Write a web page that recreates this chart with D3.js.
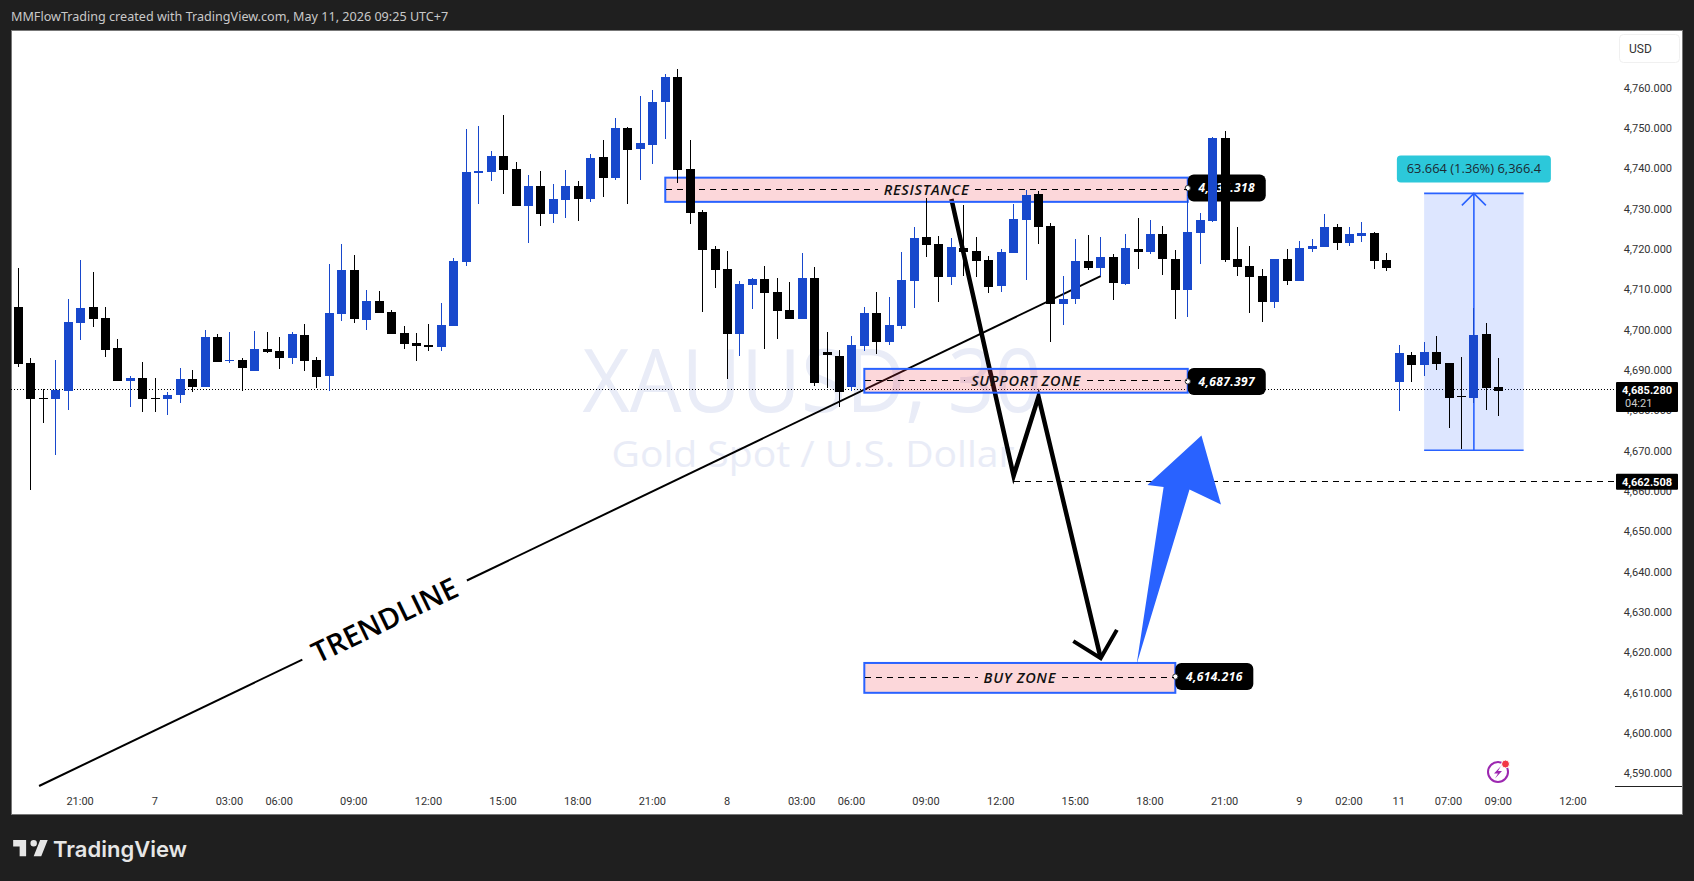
<!DOCTYPE html>
<html>
<head>
<meta charset="utf-8">
<script src="https://cdn.jsdelivr.net/npm/d3@7"></script>
<style>
  html, body { margin: 0; padding: 0; background: #1f1f1f; }
  svg { display: block; }
  text { font-family: "Open Sans", sans-serif; }
</style>
</head>
<body>
<div id="chart"></div>
<script>
const opens = [4705.8,4692.0,4683.3,4683.0,4685.1,4701.9,4705.8,4703.1,4695.7,4687.5,4688.2,4683.3,4683.0,4684.0,4688.0,4686.0,4698.4,4692.4,4692.7,4690.0,
  4695.4,4694.9,4693.2,4698.9,4692.7,4688.7,4704.1,4715.0,4702.6,4707.3,4704.6,4699.4,4696.9,4696.4,4695.9,4701.1,4717.0,4739.0,4739.3,4743.3,
  4740.0,4730.9,4735.8,4728.9,4732.4,4735.8,4732.6,4743.0,4737.8,4750.2,4745.0,4746.0,4756.7,4762.9,4740.0,4729.4,4720.2,4715.3,4699.1,4711.3,
  4712.8,4709.6,4705.1,4702.9,4713.0,4694.7,4693.8,4685.9,4696.2,4704.4,4697.2,4701.1,4712.3,4723.2,4721.5,4713.3,4720.5,4719.7,4717.5,4711.0,
  4719.2,4727.4,4733.9,4725.9,4706.6,4707.8,4717.2,4715.5,4718.2,4711.5,4720.2,4719.5,4723.9,4717.7,4710.1,4724.2,4727.2,4747.7,4717.7,4716.0,
  4713.5,4707.1,4717.7,4712.3,4720.2,4720.7,4725.7,4721.7,4723.4,4724.2,4717.5,4687.2,4693.9,4691.5,4694.7,4692.0,4683.8,4683.3,4699.1,4686.0];
const highs = [4715.5,4693.2,4685.5,4692.7,4707.8,4717.5,4714.5,4705.8,4697.9,4688.7,4692.2,4688.2,4684.8,4690.7,4690.2,4700.1,4699.1,4699.6,4693.2,4699.9,
  4699.6,4698.4,4699.6,4701.6,4693.4,4716.5,4721.5,4718.7,4710.0,4709.8,4705.1,4701.1,4699.4,4701.6,4706.8,4718.0,4750.0,4750.7,4744.5,4753.4,
  4741.8,4738.6,4739.5,4736.3,4739.8,4737.1,4743.8,4747.2,4752.7,4750.5,4758.1,4759.6,4763.6,4764.8,4747.2,4729.9,4721.0,4719.7,4712.3,4713.0,
  4716.0,4713.0,4712.0,4719.2,4715.8,4699.6,4695.1,4698.6,4705.8,4709.6,4708.3,4719.5,4725.7,4732.8,4723.4,4722.9,4731.1,4723.2,4718.5,4720.2,
  4731.4,4734.8,4734.6,4726.7,4713.5,4722.7,4723.7,4723.2,4719.0,4723.9,4727.9,4727.4,4725.9,4720.0,4732.4,4729.1,4748.0,4749.5,4725.7,4721.0,
  4715.2,4717.7,4720.2,4722.2,4722.7,4728.9,4726.4,4725.7,4726.9,4724.4,4719.2,4696.4,4694.7,4697.2,4698.6,4692.0,4693.4,4705.6,4701.9,4693.2];
const lows = [4691.0,4660.5,4677.1,4669.1,4680.3,4697.7,4700.9,4693.4,4687.5,4681.0,4679.8,4679.8,4679.1,4682.0,4684.8,4686.0,4692.2,4692.0,4685.1,4690.0,
  4694.4,4690.5,4691.7,4690.0,4685.8,4685.1,4702.4,4701.9,4700.1,4704.3,4699.1,4695.4,4692.4,4694.9,4694.9,4701.1,4716.0,4731.4,4737.1,4733.8,
  4730.9,4721.7,4725.9,4726.7,4727.9,4727.2,4731.9,4733.1,4737.3,4731.4,4737.3,4741.3,4747.5,4736.6,4726.4,4704.6,4710.5,4688.0,4693.7,4705.3,
  4695.4,4697.9,4702.9,4702.9,4686.3,4685.8,4681.1,4684.9,4694.9,4694.2,4696.4,4700.4,4705.6,4718.2,4707.1,4711.3,4713.4,4713.3,4709.3,4709.6,
  4719.2,4712.5,4721.5,4697.2,4701.4,4706.6,4715.0,4713.5,4707.6,4711.3,4715.3,4719.0,4713.8,4702.9,4703.4,4716.5,4726.9,4717.0,4713.5,4704.4,
  4702.1,4705.6,4711.3,4712.3,4719.5,4720.7,4720.0,4721.0,4722.0,4715.3,4714.8,4680.1,4687.2,4688.7,4690.2,4675.8,4670.6,4682.0,4680.3,4678.8];
const closes = [4691.7,4683.0,4683.1,4685.2,4702.1,4705.6,4702.9,4695.2,4687.5,4688.2,4683.0,4683.1,4684.0,4688.0,4686.0,4698.4,4692.2,4692.7,4690.7,4695.4,
  4694.7,4693.2,4699.1,4692.4,4688.5,4704.3,4715.0,4702.9,4707.3,4704.3,4699.1,4696.7,4696.2,4695.9,4701.4,4717.2,4739.3,4739.5,4743.3,4739.8,
  4730.9,4735.8,4728.9,4732.6,4735.8,4732.6,4742.8,4737.8,4750.2,4744.8,4746.5,4756.7,4762.9,4739.8,4729.1,4720.0,4715.0,4699.1,4711.5,4712.8,
  4709.3,4704.8,4702.9,4713.0,4687.0,4693.9,4684.8,4696.4,4704.4,4697.2,4701.4,4712.5,4722.9,4721.2,4713.3,4720.7,4719.5,4717.2,4710.8,4719.5,
  4727.7,4733.6,4725.7,4706.6,4707.8,4717.2,4715.5,4718.2,4711.8,4720.5,4719.5,4723.9,4717.7,4710.1,4724.4,4727.4,4747.7,4717.5,4715.8,4713.3,
  4707.1,4717.7,4712.3,4720.5,4721.0,4725.7,4721.7,4723.9,4724.2,4717.2,4715.5,4694.4,4691.5,4694.7,4691.7,4683.3,4683.5,4698.9,4685.8,4685.0];

// price axis
const priceTicks = [4590,4600,4610,4620,4630,4640,4650,4660,4670,4680,4690,4700,4710,4720,4730,4740,4750,4760];
// time axis, positions are bar numbers
const timeTickBars = [5,11,17,21,27,33,39,45,51,57,63,67,73,79,85,91,97,103,107,111,115,119,125];
const timeTickLabels = ['21:00','7','03:00','06:00','09:00','12:00','15:00','18:00','21:00','8','03:00','06:00','09:00','12:00','15:00','18:00','21:00','9','02:00','11','07:00','09:00','12:00'];

// zones
const zoneNames = ['RESISTANCE','SUPPORT ZONE','BUY ZONE'];
const zoneStart = [52,68,68];
const zoneEnd = [94,94,93];
const zoneTop = [4737.9,4690.5,4617.6];
const zoneBottom = [4731.9,4684.6,4610.2];
const zonePrice = [4735.318,4687.397,4614.216];

// hand drawn lines, [bar, price]
const trendline = [[1.66,4587.1],[87,4713.5]];
const zigzag = [[75,4732.6],[80,4664],[82,4683.6],[87,4618.8]];
const zigzagHead = [[84.8,4623],[87,4618.8],[88.3,4625.8]];
const bigArrow = [[89.89,4617.3],[92.06,4661.2],[90.76,4661.7],[95.1,4674],[96.67,4656.9],[94.14,4660.6]];
const levelPrice = 4662.508;
const levelStartBar = 80;
const lastPrice = 4685.28;
const lastCountdown = '04:21';
const rangeBars = [113,121];
const rangePrices = [4734,4670.34];
const rangeLabel = '63.664 (1.36%) 6,366.4';

const width = 1694, height = 881;
const plotLeft = 11, plotTop = 30, plotRight = 1682, plotBottom = 814, axisLeft = 1615;
const blue = '#1848cc', line = '#2962ff';

const x = d3.scaleLinear().domain([0, 125]).range([18.4, 1573.4]);
const y = d3.scaleLinear().domain([4590, 4760]).range([774.3, 88.5]);
const pt = d => [x(d[0]), y(d[1])];
const polyline = d3.line().x(d => x(d[0])).y(d => y(d[1]));

const svg = d3.select('#chart').append('svg').attr('width', width).attr('height', height);

svg.append('rect').attr('width', width).attr('height', height).attr('fill', '#1f1f1f');
svg.append('text').attr('x', 11).attr('y', 21).attr('fill', '#c9c9c9').attr('font-size', 12.6)
  .style('font-family', '"Noto Sans", sans-serif')
  .text('MMFlowTrading created with TradingView.com, May 11, 2026 09:25 UTC+7');
svg.append('rect').attr('x', plotLeft).attr('y', plotTop).attr('width', plotRight - plotLeft).attr('height', plotBottom - plotTop)
  .attr('fill', '#fff').attr('stroke', '#777').attr('shape-rendering', 'crispEdges');

// watermark
svg.append('text').attr('x', 812).attr('y', 412).attr('text-anchor', 'middle').attr('font-size', 88).attr('fill', '#e9ecf7')
  .attr('textLength', 459).attr('lengthAdjust', 'spacingAndGlyphs').text('XAUUSD, 30');
svg.append('text').attr('x', 813).attr('y', 467).attr('text-anchor', 'middle').attr('font-size', 37).attr('fill', '#e9ecf7')
  .attr('textLength', 403).attr('lengthAdjust', 'spacingAndGlyphs').text('Gold Spot / U.S. Dollar');

// last price line
svg.append('line').attr('x1', plotLeft).attr('x2', axisLeft).attr('y1', y(lastPrice)).attr('y2', y(lastPrice))
  .attr('stroke', '#000').attr('stroke-dasharray', '1 2').attr('shape-rendering', 'crispEdges');

// trendline with a gap for the text
const [tA, tB] = trendline.map(pt);
const along = t => [tA[0] + (tB[0] - tA[0]) * t, tA[1] + (tB[1] - tA[1]) * t];
[[0, 0.248], [0.403, 1]].forEach(seg => {
  const a = along(seg[0]), b = along(seg[1]);
  svg.append('line').attr('x1', a[0]).attr('y1', a[1]).attr('x2', b[0]).attr('y2', b[1]).attr('stroke', '#000').attr('stroke-width', 2);
});
const angle = Math.atan2(tB[1] - tA[1], tB[0] - tA[0]) * 180 / Math.PI;
const tc = along(0.3255);
svg.append('text').attr('transform', `translate(${tc[0]},${tc[1]}) rotate(${angle})`)
  .attr('text-anchor', 'middle').attr('dy', '.36em').attr('font-size', 29).attr('font-weight', 600).attr('fill', '#000').text('TRENDLINE');

// zigzag
svg.append('path').attr('d', polyline(zigzag)).attr('fill', 'none').attr('stroke', '#000').attr('stroke-width', 4.5).attr('stroke-linejoin', 'miter');
svg.append('path').attr('d', polyline(zigzagHead)).attr('fill', 'none').attr('stroke', '#000').attr('stroke-width', 4);

// level line
svg.append('line').attr('x1', x(levelStartBar)).attr('x2', axisLeft).attr('y1', y(levelPrice)).attr('y2', y(levelPrice))
  .attr('stroke', '#000').attr('stroke-dasharray', '6 5').attr('shape-rendering', 'crispEdges');

// zones
zoneNames.forEach((name, i) => {
  const x0 = x(zoneStart[i]), x1 = x(zoneEnd[i]), top = y(zoneTop[i]), bottom = y(zoneBottom[i]), mid = (top + bottom) / 2;
  svg.append('rect').attr('x', x0).attr('y', top).attr('width', x1 - x0).attr('height', bottom - top)
    .attr('fill', 'rgba(242,54,69,0.2)').attr('stroke', line).attr('stroke-width', 2);

  const tagY = y(zonePrice[i]);
  svg.append('rect').attr('x', x1).attr('y', tagY - 13.5).attr('width', 78).attr('height', 27).attr('rx', 6).attr('fill', '#000');
  svg.append('text').attr('x', x1 + 39).attr('y', tagY).attr('dy', '.35em').attr('text-anchor', 'middle')
    .attr('fill', '#fff').attr('font-size', 12).attr('font-weight', 700).attr('font-style', 'italic').attr('letter-spacing', 0.4)
    .text(d3.format(',.3f')(zonePrice[i]));
  svg.append('circle').attr('cx', x1).attr('cy', tagY).attr('r', 2.6).attr('fill', '#fff').attr('stroke', '#333');

  const label = svg.append('text').attr('x', (x0 + x1) / 2).attr('y', mid).attr('dy', '.36em').attr('text-anchor', 'middle')
    .attr('fill', '#111').attr('font-size', 14.5).attr('font-weight', 600).attr('font-style', 'italic').attr('letter-spacing', 0.7).text(name);
  const half = label.node().getComputedTextLength() / 2 + 6;
  [[x0 + 1, (x0 + x1) / 2 - half], [(x0 + x1) / 2 + half, x1 - 1]].forEach(s => {
    svg.append('line').attr('x1', s[0]).attr('x2', s[1]).attr('y1', mid).attr('y2', mid)
      .attr('stroke', '#000').attr('stroke-dasharray', '6 5').attr('shape-rendering', 'crispEdges');
  });
});

// long position box
const rx0 = x(rangeBars[0]), rx1 = x(rangeBars[1]), ry0 = y(rangePrices[0]), ry1 = y(rangePrices[1]), rmx = (rx0 + rx1) / 2;
svg.append('rect').attr('x', rx0).attr('y', ry0).attr('width', rx1 - rx0).attr('height', ry1 - ry0).attr('fill', 'rgba(41,98,255,0.16)');
[ry0, ry1].forEach(v => {
  svg.append('line').attr('x1', rx0).attr('x2', rx1).attr('y1', v).attr('y2', v).attr('stroke', line).attr('stroke-width', 1.6);
});
svg.append('line').attr('x1', rmx).attr('x2', rmx).attr('y1', ry0).attr('y2', ry1).attr('stroke', line).attr('stroke-width', 1.6);
svg.append('path').attr('d', `M${rmx - 12},${ry0 + 12}L${rmx},${ry0}L${rmx + 12},${ry0 + 12}`).attr('fill', 'none').attr('stroke', line).attr('stroke-width', 1.6);
svg.append('rect').attr('x', rmx - 77).attr('y', ry0 - 38).attr('width', 154).attr('height', 27).attr('rx', 4).attr('fill', '#2cc8da');
svg.append('text').attr('x', rmx).attr('y', ry0 - 24.5).attr('dy', '.35em').attr('text-anchor', 'middle').attr('font-size', 12.9).attr('fill', '#1d2a33').text(rangeLabel);

// candles
const candles = svg.append('g').attr('shape-rendering', 'crispEdges').selectAll('g')
  .data(d3.range(opens.length)).join('g')
  .attr('fill', i => closes[i] >= opens[i] ? blue : '#000');
candles.append('rect')
  .attr('x', i => Math.floor(x(i))).attr('width', 1)
  .attr('y', i => y(highs[i])).attr('height', i => y(lows[i]) - y(highs[i]));
candles.append('rect')
  .attr('x', i => Math.floor(x(i)) - 4).attr('width', 9)
  .attr('y', i => y(Math.max(opens[i], closes[i])))
  .attr('height', i => Math.max(1, Math.abs(y(opens[i]) - y(closes[i]))));

// big blue arrow goes above the candles
svg.append('path').attr('d', polyline(bigArrow) + 'Z').attr('fill', line);

// axes
const fmtPrice = d3.format(',.3f');
const yAxis = svg.append('g').attr('transform', 'translate(1672,-1)')
  .call(d3.axisLeft(y).tickValues(priceTicks).tickFormat(fmtPrice).tickSize(0).tickPadding(0));
yAxis.select('.domain').remove();
yAxis.selectAll('text').attr('fill', '#333').attr('font-size', 11).style('font-family', 'Roboto, sans-serif');

const labelByBar = d3.scaleOrdinal().domain(timeTickBars).range(timeTickLabels);
const xAxis = svg.append('g').attr('transform', 'translate(-1,797)')
  .call(d3.axisBottom(x).tickValues(timeTickBars).tickFormat(d => labelByBar(d)).tickSize(0).tickPadding(0));
xAxis.select('.domain').remove();
xAxis.selectAll('text').attr('fill', '#333').attr('font-size', 11).style('font-family', 'Roboto, sans-serif');

svg.append('line').attr('x1', axisLeft).attr('x2', plotRight).attr('y1', 786).attr('y2', 786).attr('stroke', '#222').attr('shape-rendering', 'crispEdges');

// price tags on the axis
svg.append('rect').attr('x', 1616).attr('y', y(levelPrice) - 8).attr('width', 62).attr('height', 16).attr('rx', 1).attr('fill', '#000');
svg.append('text').attr('x', 1647).attr('y', y(levelPrice)).attr('dy', '.35em').attr('text-anchor', 'middle').attr('fill', '#fff')
  .attr('font-size', 11).attr('font-weight', 700).style('font-family', 'Roboto, sans-serif').text(fmtPrice(levelPrice));
svg.append('rect').attr('x', 1616).attr('y', y(lastPrice) - 8).attr('width', 62).attr('height', 30).attr('rx', 1).attr('fill', '#000');
svg.append('text').attr('x', 1647).attr('y', y(lastPrice)).attr('dy', '.35em').attr('text-anchor', 'middle').attr('fill', '#fff')
  .attr('font-size', 11).attr('font-weight', 700).style('font-family', 'Roboto, sans-serif').text(fmtPrice(lastPrice));
svg.append('text').attr('x', 1625).attr('y', y(lastPrice) + 13).attr('dy', '.35em').attr('fill', '#ccc')
  .attr('font-size', 11).style('font-family', 'Roboto, sans-serif').text(lastCountdown);

// USD button
svg.append('rect').attr('x', 1619.5).attr('y', 34.5).attr('width', 60).attr('height', 28).attr('rx', 4).attr('fill', '#fff').attr('stroke', '#f0f0f0');
svg.append('text').attr('x', 1629).attr('y', 48.5).attr('dy', '.35em').attr('font-size', 12).attr('fill', '#333').style('font-family', 'Roboto, sans-serif').text('USD');

// bolt icon
const bolt = svg.append('g').attr('transform', 'translate(1498,772)');
bolt.append('circle').attr('r', 10).attr('fill', 'none').attr('stroke', '#9c27b0').attr('stroke-width', 2);
bolt.append('path').attr('d', 'M3,-6L-4,1.5H0L-3,6.5L4,-1H0Z').attr('fill', '#9c27b0');
bolt.append('circle').attr('cx', 7.5).attr('cy', -8).attr('r', 4).attr('fill', '#f23645').attr('stroke', '#fff');

// logo
svg.append('path').attr('transform', 'translate(11,833.5) scale(1.08)')
  .attr('d', 'M14 6H2v6h6v9h6V6zm14 15h-7l6-15h7l-6 15zm-7-9a3 3 0 1 0 0-6 3 3 0 0 0 0 6z').attr('fill', '#e6e6e6');
svg.append('text').attr('x', 53).attr('y', 857).attr('font-size', 22).attr('font-weight', 600).attr('fill', '#e6e6e6')
  .style('font-family', 'Inter, sans-serif').text('TradingView');
</script>
</body>
</html>
